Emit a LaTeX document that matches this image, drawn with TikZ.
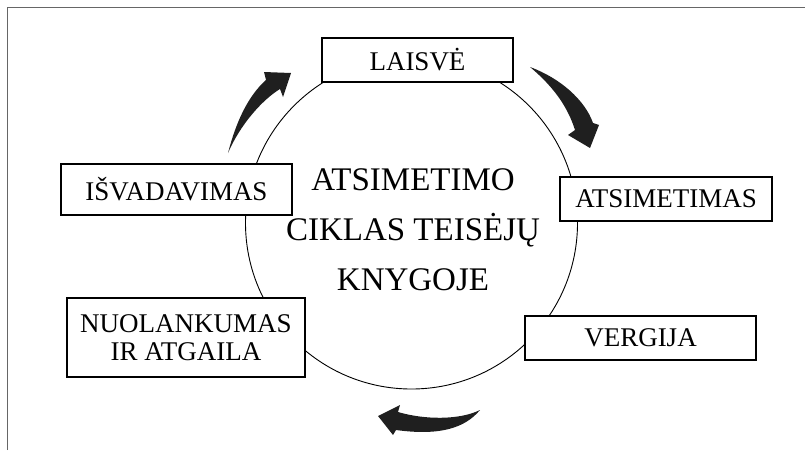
\documentclass[tikz,border=0pt]{standalone}
\usepackage{fontspec}
\setmainfont{Liberation Serif}
\begin{document}
\begin{tikzpicture}[x=1pt,y=-1pt,
  box/.style={draw, line width=1.1pt, fill=white, inner sep=0pt, align=center,
    font=\fontsize{27}{28}\selectfont},
  bigarrow/.style={fill=black!88, draw=none},
  frameline/.style={black!60, line width=1pt}]
\useasboundingbox (0,0) rectangle (810,450);
% frame
\coordinate (fbl) at (7,450);
\coordinate (ftl) at (7,7);
\coordinate (ftr) at (805,7);
\draw[frameline] (fbl) -- (ftl) -- (ftr);
% circle
\node[circle, draw, line width=0.9pt, minimum size=332pt, inner sep=0pt] (ring) at (411.5,223) {};
% title
\node[font=\fontsize{33}{50}\selectfont, align=center] (title) at (413,230)
  {ATSIMETIMO\\CIKLAS TEISĖJŲ\\KNYGOJE};
% boxes
\node[box, minimum width=191pt, minimum height=44pt] (laisve) at (417.5,60) {LAISVĖ};
\node[box, minimum width=212pt, minimum height=44pt] (atsim) at (666,199) {ATSIMETIMAS};
\node[box, minimum width=231pt, minimum height=44pt] (vergija) at (640.5,338) {VERGIJA};
\node[box, minimum width=231pt, minimum height=51pt] (isvad) at (176.5,189.5) {IŠVADAVIMAS};
\node[box, minimum width=238pt, minimum height=79pt] (nuol) at (186,337.5) {NUOLANKUMAS\\IR ATGAILA};
% arrows
\fill[bigarrow] (228,153) .. controls (236,122) and (248,96) .. (266,80)
  -- (264,72) -- (291,73) -- (283,97) -- (280,89)
  .. controls (262,100) and (240,125) .. (228,153) -- cycle;
\fill[bigarrow] (530,67) .. controls (560,78) and (585,100) .. (593,123)
  -- (599,125) -- (590,148) -- (568,135) -- (575,130)
  .. controls (568,108) and (555,88) .. (530,67) -- cycle;
\fill[bigarrow] (480,410) .. controls (460,420) and (425,420) .. (398,412)
  -- (400,405) -- (378,416) -- (393,435) -- (396,430)
  .. controls (440,436) and (465,428) .. (480,410) -- cycle;
\end{tikzpicture}
\end{document}
